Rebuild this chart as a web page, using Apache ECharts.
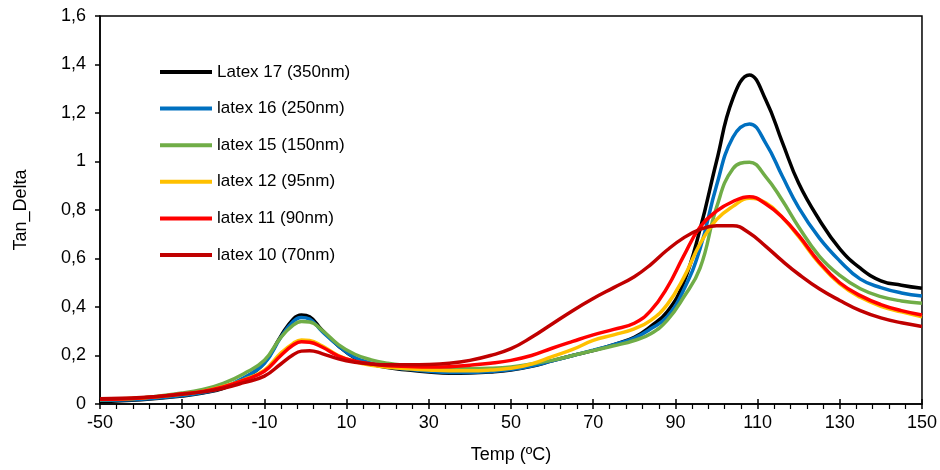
<!DOCTYPE html>
<html>
<head>
<meta charset="utf-8">
<script src="https://cdn.jsdelivr.net/npm/echarts@6/dist/echarts.min.js"></script>
<style>html,body{margin:0;padding:0;background:#fff;}#c{width:940px;height:470px;}</style>
</head>
<body>
<div id="c"></div>
<script>
var seriesNames = ['Latex 17 (350nm)', 'latex 16 (250nm)', 'latex 15 (150nm)', 'latex 12 (95nm)', 'latex 11 (90nm)', 'latex 10 (70nm)'];
var temps = [-50,-40,-30,-25,-20,-15,-10,-6,-3,-1,1,4,8,12,16,20,25,30,35,40,45,50,55,60,65,70,75,80,84,88,92,96,100,104,108,112,116,120,125,130,135,140,145,150];
var latex17 = [0.010,0.018,0.033,0.045,0.065,0.105,0.170,0.280,0.350,0.367,0.360,0.305,0.240,0.190,0.165,0.150,0.140,0.132,0.127,0.128,0.132,0.140,0.155,0.178,0.200,0.220,0.245,0.275,0.320,0.380,0.500,0.720,1.000,1.260,1.357,1.254,1.080,0.910,0.760,0.640,0.560,0.508,0.490,0.477];
var latex16 = [0.015,0.020,0.035,0.047,0.068,0.108,0.168,0.275,0.340,0.357,0.350,0.300,0.240,0.192,0.168,0.153,0.143,0.135,0.130,0.130,0.134,0.142,0.157,0.178,0.200,0.222,0.245,0.272,0.310,0.360,0.470,0.640,0.900,1.100,1.155,1.075,0.940,0.810,0.685,0.590,0.515,0.480,0.458,0.445];
var latex15 = [0.018,0.025,0.045,0.060,0.085,0.125,0.180,0.275,0.325,0.340,0.338,0.305,0.245,0.205,0.182,0.168,0.158,0.150,0.148,0.145,0.147,0.153,0.165,0.180,0.200,0.220,0.240,0.262,0.290,0.345,0.440,0.560,0.810,0.970,0.997,0.937,0.840,0.730,0.610,0.530,0.475,0.443,0.425,0.415];
var latex12 = [0.020,0.025,0.040,0.052,0.072,0.100,0.140,0.210,0.250,0.264,0.262,0.240,0.200,0.175,0.160,0.152,0.145,0.140,0.137,0.137,0.140,0.147,0.165,0.195,0.225,0.262,0.285,0.310,0.345,0.410,0.520,0.660,0.760,0.815,0.848,0.830,0.770,0.690,0.580,0.495,0.440,0.403,0.380,0.360];
var latex11 = [0.020,0.025,0.042,0.052,0.070,0.098,0.135,0.200,0.243,0.257,0.255,0.235,0.198,0.177,0.165,0.158,0.155,0.153,0.154,0.160,0.168,0.180,0.200,0.230,0.258,0.285,0.308,0.333,0.385,0.480,0.610,0.730,0.795,0.835,0.855,0.825,0.770,0.695,0.585,0.500,0.447,0.410,0.385,0.367];
var latex10 = [0.022,0.027,0.040,0.050,0.065,0.088,0.115,0.165,0.203,0.218,0.220,0.208,0.186,0.172,0.165,0.162,0.162,0.163,0.168,0.180,0.200,0.228,0.275,0.330,0.385,0.435,0.480,0.525,0.575,0.635,0.685,0.720,0.735,0.735,0.705,0.650,0.590,0.535,0.475,0.427,0.385,0.355,0.335,0.320];
var colors = ['#000000', '#0070C0', '#70AD47', '#FFC000', '#FF0000', '#C00000'];
var allValues = [latex17, latex16, latex15, latex12, latex11, latex10];

function zip(vals) { return temps.map(function (t, i) { return [t, vals[i]]; }); }

var series = seriesNames.map(function (n, k) {
  return {
    name: n, type: 'line', xAxisIndex: 0, yAxisIndex: 0,
    data: zip(allValues[k]), showSymbol: false, symbol: 'none',
    smooth: 0.45,
    lineStyle: { color: colors[k], width: 3.5 },
    itemStyle: { color: colors[k] },
    z: 2 + k
  };
});

var chart = echarts.init(document.getElementById('c'), null, { renderer: 'canvas' });
var fontFam = '"Liberation Sans", Arial, sans-serif';
chart.setOption({
  animation: false,
  backgroundColor: '#ffffff',
  grid: { left: 100, right: 17, top: 16, bottom: 66, show: true, borderColor: '#000', borderWidth: 1.5, backgroundColor: 'transparent' },
  legend: {
    orient: 'vertical', left: 155, top: 58,
    icon: 'rect', itemWidth: 52, itemHeight: 4, itemGap: 18.6,
    textStyle: { fontFamily: fontFam, fontSize: 17, color: '#000', lineHeight: 18 },
    data: seriesNames
  },
  xAxis: [{
    type: 'value', min: -50, max: 150, interval: 20,
    name: 'Temp (ºC)', nameLocation: 'middle', nameGap: 42,
    nameTextStyle: { fontFamily: fontFam, fontSize: 18, color: '#000' },
    axisLine: { show: true, onZero: false, lineStyle: { color: '#000', width: 1.5 } },
    axisTick: { show: true, inside: false, length: 5, lineStyle: { color: '#000', width: 1.5 } },
    minorTick: { show: true, splitNumber: 5, length: 5, lineStyle: { color: '#000', width: 1.2 } },
    axisLabel: { fontFamily: fontFam, fontSize: 18, color: '#000', margin: 10 },
    splitLine: { show: false }
  }, {
    type: 'value', min: -50, max: 150, interval: 20, position: 'bottom',
    axisLine: { show: false },
    axisTick: { show: true, inside: true, length: 5, lineStyle: { color: '#000', width: 1.5 } },
    axisLabel: { show: false }, splitLine: { show: false }
  }],
  yAxis: [{
    type: 'value', min: 0, max: 1.6, interval: 0.2,
    name: 'Tan_Delta', nameLocation: 'middle', nameGap: 70,
    nameTextStyle: { fontFamily: fontFam, fontSize: 18, color: '#000' },
    axisLine: { show: true, onZero: false, lineStyle: { color: '#000', width: 1.5 } },
    axisTick: { show: true, inside: false, length: 5, lineStyle: { color: '#000', width: 1.5 } },
    axisLabel: {
      fontFamily: fontFam, fontSize: 18, color: '#000', margin: 14,
      formatter: function (v) { return (Math.round(v * 10) / 10).toString().replace('.', ','); }
    },
    splitLine: { show: false }
  }],
  series: series
});
</script>
</body>
</html>
